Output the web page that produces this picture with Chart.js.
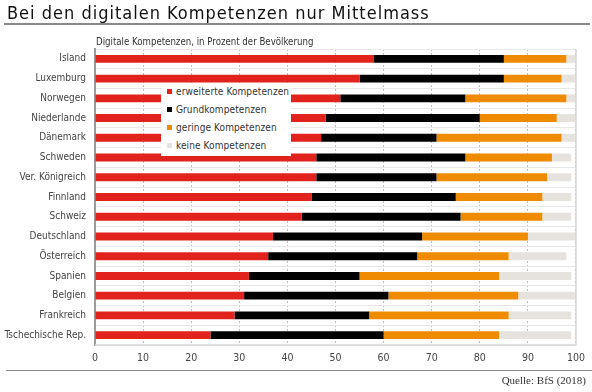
<!DOCTYPE html>
<html>
<head>
<meta charset="utf-8">
<script src="https://cdn.jsdelivr.net/npm/chart.js@4"></script>
<style>
  html, body { margin: 0; padding: 0; background: #fff; }
  #wrap { position: relative; width: 592px; height: 392px; overflow: hidden; font-family: "DejaVu Sans Condensed", "DejaVu Sans", sans-serif; }
  #c { position: absolute; left: 0; top: 0; }
  .title { position: absolute; left: 7px; top: 2px; font-size: 18px; letter-spacing: 1px; color: #111; white-space: nowrap; }
  .rule { position: absolute; height: 0; border-top: 2px solid #8a8a8a; }
  .sub { position: absolute; left: 96px; top: 36px; font-size: 9.6px; letter-spacing: 0; color: #333; white-space: nowrap; }
  .src { position: absolute; right: 6px; top: 374px; font-family: "Liberation Serif", serif; font-size: 11px; color: #333; }
  .legend { position: absolute; left: 161px; top: 83px; width: 130px; height: 73px; background: #fff; font-size: 10px; letter-spacing: 0.1px; color: #333; }
  .legend div { position: absolute; left: 6px; white-space: nowrap; }
  .legend span { display: inline-block; width: 5px; height: 5px; margin-right: 4px; vertical-align: 1px; }
</style>
</head>
<body>
<div id="wrap">
  <canvas id="c" width="592" height="392"></canvas>
  <div class="title">Bei den digitalen Kompetenzen nur Mittelmass</div>
  <div class="rule" style="left:4px; width:586px; top:23px;"></div>
  <div class="sub">Digitale Kompetenzen, in Prozent der Bevölkerung</div>
  <div class="legend" id="legend"></div>
  <div class="rule" style="left:6px; width:586px; top:370px; border-top-width:1.5px;"></div>
  <div class="src">Quelle: BfS (2018)</div>
</div>
<script>
var countries = ["Island", "Luxemburg", "Norwegen", "Niederlande", "Dänemark", "Schweden", "Ver. Königreich", "Finnland", "Schweiz", "Deutschland", "Österreich", "Spanien", "Belgien", "Frankreich", "Tschechische Rep."];
var erweitert = [58, 55, 51, 48, 47, 46, 46, 45, 43, 37, 36, 32, 31, 29, 24];
var grund     = [27, 30, 26, 32, 24, 31, 25, 30, 33, 31, 31, 23, 30, 28, 36];
var gering    = [13, 12, 21, 16, 26, 18, 23, 18, 17, 22, 19, 29, 27, 29, 24];
var keine     = [2, 3, 2, 4, 3, 4, 5, 6, 6, 10, 12, 15, 12, 13, 15];
var seriesNames = ["erweiterte Kompetenzen", "Grundkompetenzen", "geringe Kompetenzen", "keine Kompetenzen"];
var seriesColors = ["#e2231d", "#000000", "#ef8b00", "#e6e3df"];
var xTicks = [0, 10, 20, 30, 40, 50, 60, 70, 80, 90, 100];

var font = "'DejaVu Sans Condensed', 'DejaVu Sans', sans-serif";
var values = [erweitert, grund, gering, keine];

var lg = document.getElementById("legend");
seriesNames.forEach(function (n, i) {
  var d = document.createElement("div");
  d.style.top = (3 + i * 18) + "px";
  d.innerHTML = "<span style='background:" + seriesColors[i] + "'></span>" + n;
  lg.appendChild(d);
});

var frame = {
  id: "frame",
  afterDatasetsDraw: function (chart) {
    var a = chart.chartArea, c = chart.ctx;
    c.save();
    c.strokeStyle = "#d6d6d6";
    c.lineWidth = 1.5;
    c.beginPath();
    c.moveTo(a.right, a.top);
    c.lineTo(a.right, a.bottom);
    c.lineTo(a.left, a.bottom);
    c.stroke();
    c.restore();
  }
};

new Chart(document.getElementById("c"), {
  type: "bar",
  data: {
    labels: countries,
    datasets: values.map(function (v, i) {
      return {
        label: seriesNames[i],
        data: v,
        backgroundColor: seriesColors[i],
        barPercentage: 0.4,
        categoryPercentage: 1,
      };
    }),
  },
  options: {
    indexAxis: "y",
    responsive: false,
    animation: false,
    layout: { padding: { left: 0, right: 14, top: 49, bottom: 0 } },
    plugins: { legend: { display: false }, tooltip: { enabled: false } },
    scales: {
      x: {
        stacked: true,
        min: 0,
        max: 100,
        afterBuildTicks: function (s) { s.ticks = xTicks.map(function (v) { return { value: v }; }); },
        afterFit: function (s) { s.height = 47; },
        ticks: { color: "#444", font: { family: font, size: 10.5 }, padding: 7 },
        grid: { color: "#bdbdbd", lineWidth: 1, drawTicks: false },
        border: { display: false, dash: [2, 2] },
      },
      y: {
        stacked: true,
        afterFit: function (s) { s.width = 95; },
        ticks: { color: "#444", font: { family: font, size: 10 }, padding: 9 },
        grid: { color: "#e8e8e8", lineWidth: 1, offset: true, drawTicks: false },
        border: { color: "#9a9a9a", width: 2 },
      },
    },
  },
  plugins: [frame],
});
</script>
</body>
</html>
